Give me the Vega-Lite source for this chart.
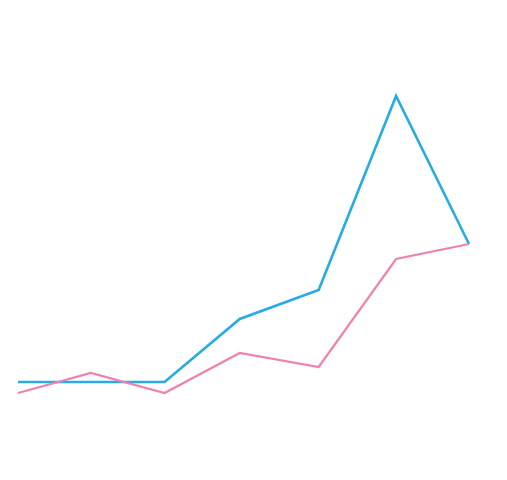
{
  "$schema": "https://vega.github.io/schema/vega-lite/v6.json",
  "width": 451,
  "height": 480,
  "padding": {"left": 18, "top": 0, "right": 38, "bottom": 0},
  "autosize": "none",
  "background": "white",
  "view": {"stroke": null},
  "data": {"values": [
    {"i": 0, "s": "A", "v": 98}, {"i": 0.97, "s": "A", "v": 98}, {"i": 1.95, "s": "A", "v": 98},
    {"i": 2.95, "s": "A", "v": 161}, {"i": 4.0, "s": "A", "v": 190}, {"i": 5.03, "s": "A", "v": 384}, {"i": 6, "s": "A", "v": 236},
    {"i": 0, "s": "B", "v": 87}, {"i": 0.97, "s": "B", "v": 107}, {"i": 1.95, "s": "B", "v": 87},
    {"i": 2.95, "s": "B", "v": 127}, {"i": 4.0, "s": "B", "v": 113}, {"i": 5.03, "s": "B", "v": 221}, {"i": 6, "s": "B", "v": 236}
  ]},
  "mark": {"type": "line", "strokeJoin": "miter"},
  "encoding": {
    "x": {"field": "i", "type": "quantitative", "scale": {"domain": [0, 6], "nice": false, "zero": false}, "axis": null},
    "y": {"field": "v", "type": "quantitative", "scale": {"domain": [0, 480], "nice": false}, "axis": null},
    "color": {"field": "s", "type": "nominal", "scale": {"domain": ["A", "B"], "range": ["#27abe2", "#f081ae"]}, "legend": null},
    "strokeWidth": {"field": "s", "type": "nominal", "scale": {"domain": ["A", "B"], "range": [2.6, 2.2]}, "legend": null},
    "order": {"field": "s", "sort": "descending"}
  }
}
